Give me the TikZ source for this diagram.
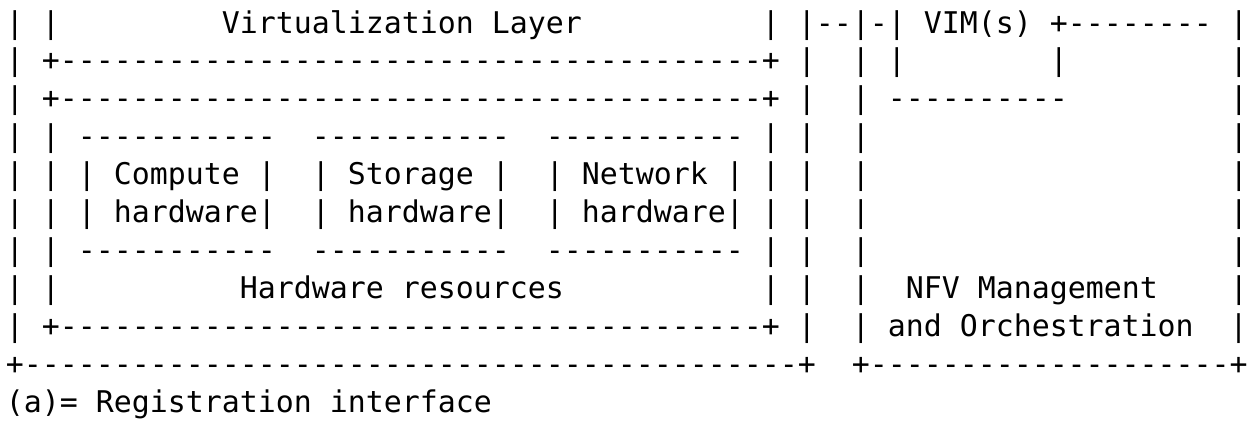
\documentclass[tikz,border=0pt]{standalone}
\usepackage{fontspec}
\setmonofont{DejaVu Sans Mono}
\ExplSyntaxOn
\cs_new:Npn \rp #1#2 { \prg_replicate:nn {#1} {#2} }
\ExplSyntaxOff
\begin{document}
\begin{tikzpicture}[x=0.75pt,y=-0.75pt,
  ln/.style={anchor=base west, inner sep=0pt, outer sep=0pt,
    font=\ttfamily\fontsize{22.42pt}{22.42pt}\selectfont\frenchspacing}]
\fill[white] (0,0) rectangle (1253,422);
\useasboundingbox (0,0) rectangle (1253,422);
\node[ln] (l1) at (6,33.0) {|~|\rp{9}{~}Virtualization~Layer\rp{10}{~}|~|--|-|~VIM(s)~+\rp{8}{-}~|};
\node[ln] (l2) at (6,70.9) {|~+\rp{39}{-}+~|~~|~|\rp{8}{~}|\rp{9}{~}|};
\node[ln] (l3) at (6,108.8) {|~+\rp{39}{-}+~|~~|~\rp{10}{-}\rp{9}{~}|};
\node[ln] (l4) at (6,146.7) {|~|~\rp{11}{-}~~\rp{11}{-}~~\rp{11}{-}~|~|~~|\rp{20}{~}|};
\node[ln] (l5) at (6,184.6) {|~|~|~Compute~|~~|~Storage~|~~|~Network~|~|~|~~|\rp{20}{~}|};
\node[ln] (l6) at (6,222.5) {|~|~|~hardware|~~|~hardware|~~|~hardware|~|~|~~|\rp{20}{~}|};
\node[ln] (l7) at (6,260.4) {|~|~\rp{11}{-}~~\rp{11}{-}~~\rp{11}{-}~|~|~~|\rp{20}{~}|};
\node[ln] (l8) at (6,298.3) {|~|\rp{10}{~}Hardware~resources\rp{11}{~}|~|~~|~~NFV~Management\rp{4}{~}|};
\node[ln] (l9) at (6,336.2) {|~+\rp{39}{-}+~|~~|~and~Orchestration~~|};
\node[ln] (l10) at (6,374.1) {+\rp{43}{-}+~~+\rp{20}{-}+};
\node[ln] (l11) at (6,412.0) {(a)=~Registration~interface};
\end{tikzpicture}
\end{document}
